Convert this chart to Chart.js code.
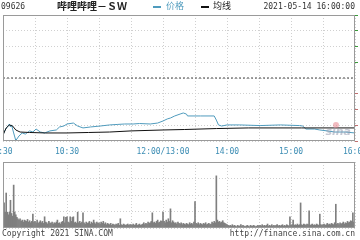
<!DOCTYPE html>
<html>
<head>
<meta charset="utf-8">
<script src="https://cdn.jsdelivr.net/npm/chart.js@4/dist/chart.umd.min.js"></script>
<style>
  body { margin: 0; background: #fff; }
  #wrap { position: relative; width: 360px; height: 240px; overflow: hidden; background: #fff; }
  canvas { position: absolute; left: 0; }
  .t { position: absolute; white-space: nowrap; font-family: "DejaVu Sans Mono", monospace; font-size: 8px; color: #333; line-height: 10px; }
  .cn { font-family: "Noto Sans CJK SC", sans-serif; }
</style>
</head>
<body>
<div id="wrap">
  <canvas id="priceChart" width="360" height="162" style="top:0"></canvas>
  <canvas id="volChart" width="360" height="80" style="top:160px"></canvas>
  <div class="t" style="left:1px;top:2px;">09626</div>
  <div class="t cn" style="left:57px;top:1px;font-size:10px;font-weight:700;color:#222;">哔哩哔哩－ＳＷ</div>
  <div class="t" style="left:153px;top:6px;width:8px;height:2px;background:#4f9bbd;"></div>
  <div class="t cn" style="left:166px;top:1px;font-size:9px;color:#4f9bbd;">价格</div>
  <div class="t" style="left:201px;top:6px;width:8px;height:2px;background:#111;"></div>
  <div class="t cn" style="left:213px;top:1px;font-size:9px;color:#222;">均线</div>
  <div class="t" style="right:5px;top:2px;">2021-05-14 16:00:00</div>
  <div class="t" style="left:2px;top:229px;color:#444;">Copyright 2021 SINA.COM</div>
  <div class="t" style="right:5px;top:229px;color:#444;">http://finance.sina.com.cn</div>
</div>
<script>
// minutes from 9:30 (lunch break removed), 330 = 16:00
var prevClose = 700;
var priceMinutes = [0, 2, 4, 6, 7, 8, 10, 12, 15, 18, 21, 25, 28, 31, 35, 39, 44, 50, 53, 57,
  60, 66, 70, 75, 82, 91, 100, 107, 114, 122, 128, 138, 145, 150, 154, 157, 161, 166, 169, 172,
  173, 185, 198, 200, 202, 205, 210, 222, 241, 260, 278, 281, 284, 292, 297, 304, 311, 321, 330];
var priceValues = [663.8, 667.0, 668.9, 670.8, 668.9, 670.2, 665.1, 660.3, 663.2, 665.1, 664.4, 666.4, 665.7, 667.6, 665.7, 665.1, 666.4, 667.0, 668.9, 669.5,
  670.8, 671.4, 669.5, 668.3, 668.9, 669.5, 670.2, 670.5, 670.8, 670.8, 671.1, 670.8, 671.4, 672.7, 674.0, 674.6, 675.9, 677.1, 677.8, 677.1,
  675.9, 675.9, 675.9, 673.3, 670.2, 669.5, 670.2, 670.2, 669.8, 670.2, 669.8, 669.5, 667.6, 667.6, 667.0, 666.4, 665.7, 665.7, 665.1];
var avgMinutes = [0, 3, 6, 9, 12, 16, 25, 40, 60, 80, 100, 120, 150, 170, 200, 230, 280, 330];
var avgValues = [663.8, 668.3, 670.2, 669.5, 667.0, 665.7, 665.4, 665.1, 665.1, 665.4, 665.7, 666.4, 667.0, 667.3, 667.9, 668.3, 668.3, 668.3];

// volume per minute, 0..330 (relative units)
var volumes = [
  30, 38, 24, 53, 24, 20, 24, 42, 22, 18, 65, 24, 20, 16, 14, 12, 14, 10, 12, 9, 12, 11, 10, 13, 9, 11, 8, 10, 21, 9,
  10, 8, 12, 7, 9, 11, 8, 10, 7, 17, 9, 8, 6, 10, 8, 7, 9, 6, 8, 7, 9, 12, 7, 8, 6, 9, 10, 17, 8, 16,
  17, 9, 8, 17, 10, 16, 17, 8, 9, 7, 24, 8, 10, 7, 9, 23, 8, 6, 9, 7, 8, 10, 6, 9, 7, 12, 8, 6, 9, 7,
  8, 6, 9, 7, 10, 6, 8, 5, 7, 6, 5, 7, 4, 6, 5, 4, 6, 5, 7, 4, 14, 5, 4, 6, 5, 4, 5, 6, 4, 5,
  5, 4, 6, 4, 5, 7, 4, 5, 6, 4, 5, 6, 8, 5, 7, 6, 9, 7, 8, 10, 23, 8, 9, 7, 10, 12, 8, 9, 11, 10,
  24, 10, 8, 12, 9, 14, 10, 29, 8, 11, 9, 7, 8, 6, 9, 7, 6, 8, 5, 7, 6, 5, 7, 6, 5, 8, 6, 7, 5, 9,
  40, 7, 6, 8, 5, 7, 6, 5, 7, 6, 8, 5, 6, 7, 5, 6, 9, 7, 10, 8, 79, 12, 9, 10, 8, 9, 11, 8, 7, 6,
  5, 4, 3, 4, 3, 5, 3, 4, 3, 2, 4, 3, 3, 5, 3, 4, 3, 2, 3, 4, 3, 2, 4, 3, 3, 4, 3, 2, 3, 4,
  3, 4, 3, 5, 3, 4, 3, 4, 6, 3, 4, 3, 5, 3, 4, 3, 4, 5, 3, 4, 3, 4, 5, 3, 4, 3, 5, 4, 3, 17,
  4, 5, 12, 4, 5, 4, 6, 4, 5, 38, 5, 4, 6, 5, 4, 6, 5, 26, 4, 5, 6, 4, 5, 4, 6, 5, 4, 21, 5, 4,
  5, 6, 4, 5, 7, 5, 6, 5, 7, 6, 5, 8, 36, 6, 7, 5, 8, 6, 7, 9, 6, 8, 7, 10, 8, 9, 11, 10, 23, 9,
  100
];
var timeTicks = [0, 60, 150, 210, 270, 330];
var timeLabels = ['9:30', '10:30', '12:00/13:00', '14:00', '15:00', '16:00'];

function pts(xs, ys) {
  return xs.map(function(x, i) { return {x: x, y: ys[i]}; });
}

// frame around the plot area
var framePlugin = {
  id: 'frame',
  afterDraw: function(chart) {
    var a = chart.chartArea, ctx = chart.ctx;
    ctx.save();
    ctx.strokeStyle = '#9a9a9a';
    ctx.lineWidth = 1;
    ctx.strokeRect(Math.round(a.left) + 0.5, Math.round(a.top) + 0.5,
      Math.round(a.right - a.left) - 1, Math.round(a.bottom - a.top) - 1);
    ctx.restore();
  }
};

var timeLabelPlugin = {
  id: 'timeLabels',
  afterDraw: function(chart) {
    var ctx = chart.ctx, xs = chart.scales.x, a = chart.chartArea;
    ctx.save();
    ctx.font = '8px "DejaVu Sans Mono"';
    ctx.fillStyle = '#3c8db4';
    ctx.textAlign = 'center';
    ctx.textBaseline = 'middle';
    timeTicks.forEach(function(t, i) {
      ctx.fillText(timeLabels[i], xs.getPixelForValue(t), a.bottom + 11);
    });
    // sina watermark
    ctx.font = 'italic bold 11px "DejaVu Sans"';
    ctx.fillStyle = 'rgba(150,155,175,0.55)';
    ctx.textAlign = 'right';
    ctx.fillText('sina', a.right - 4, a.bottom - 9);
    ctx.fillStyle = 'rgba(230,120,130,0.5)';
    ctx.beginPath();
    ctx.arc(a.right - 19, a.bottom - 16, 3, 0, Math.PI * 2);
    ctx.fill();
    ctx.restore();
  }
};

var gridColor = '#d0d0d0';

new Chart(document.getElementById('priceChart'), {
  type: 'line',
  data: {
    datasets: [
      {
        label: '均线',
        data: pts(avgMinutes, avgValues),
        borderColor: '#111',
        borderWidth: 1,
        pointRadius: 0
      },
      {
        label: '价格',
        data: pts(priceMinutes, priceValues),
        borderColor: '#4f9bbd',
        borderWidth: 1,
        pointRadius: 0
      },
      {
        label: 'prev',
        data: [{x: 0, y: prevClose}, {x: 330, y: prevClose}],
        borderColor: '#444',
        borderWidth: 1,
        borderDash: [2, 2],
        pointRadius: 0
      }
    ]
  },
  options: {
    responsive: false,
    animation: false,
    devicePixelRatio: 1,
    layout: { padding: { left: 3, right: 2, top: 15, bottom: 21 } },
    plugins: { legend: { display: false }, tooltip: { enabled: false } },
    scales: {
      x: {
        type: 'linear', min: 0, max: 330,
        ticks: { display: false, stepSize: 30 },
        grid: { color: gridColor, drawTicks: false },
        border: { display: false, dash: [1, 2] }
      },
      y: {
        min: 660, max: 740,
        ticks: { display: false, stepSize: 10 },
        grid: { color: gridColor, drawTicks: false },
        border: { display: false, dash: [1, 2] }
      },
      y2: {
        position: 'right',
        min: 660, max: 740,
        ticks: { display: false, stepSize: 10 },
        grid: {
          drawOnChartArea: false, tickLength: 3,
          tickColor: function(c) {
            if (!c.tick) return 'transparent';
            if (c.tick.value > prevClose) return '#3a9a3a';
            if (c.tick.value < prevClose) return '#c07070';
            return 'transparent';
          }
        },
        border: { display: false }
      }
    }
  },
  plugins: [framePlugin, timeLabelPlugin]
});

new Chart(document.getElementById('volChart'), {
  type: 'bar',
  data: {
    datasets: [{
      data: volumes.map(function(v, i) { return {x: i, y: v}; }),
      backgroundColor: function(c) { return c.dataIndex === 330 ? '#cfcfcf' : '#7f7f7f'; },
      barThickness: function(c) { return c.dataIndex === 330 ? 3 : 1; }
    }]
  },
  options: {
    responsive: false,
    animation: false,
    devicePixelRatio: 1,
    layout: { padding: { left: 3, right: 5, top: 2, bottom: 12 } },
    plugins: { legend: { display: false }, tooltip: { enabled: false } },
    scales: {
      x: {
        type: 'linear', min: 0, max: 330, offset: false,
        ticks: { display: false, stepSize: 30 },
        grid: { color: gridColor, drawTicks: false, offset: false },
        border: { display: false, dash: [1, 2] }
      },
      y: {
        min: 0, max: 100,
        ticks: { display: false, stepSize: 25 },
        grid: { color: gridColor, drawTicks: false },
        border: { display: false, dash: [1, 2] }
      }
    }
  },
  plugins: [framePlugin]
});
</script>
</body>
</html>
